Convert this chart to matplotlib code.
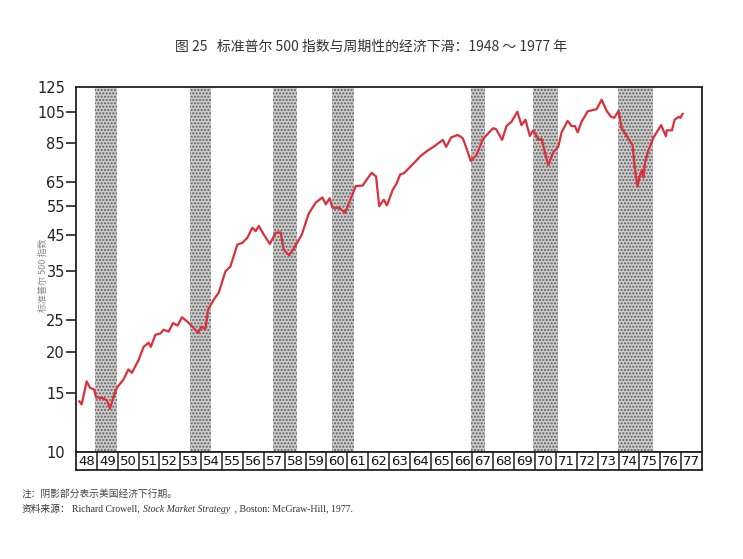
import matplotlib
matplotlib.use('Agg')
import matplotlib.pyplot as plt

plt.rcParams['font.family'] = ['DejaVu Sans', 'Noto Sans CJK SC']
plt.rcParams['hatch.color'] = '#5e5e5e'
plt.rcParams['hatch.linewidth'] = 1.0

# S&P 500 index (year as decimal)
years = [1948.16, 1948.27, 1948.51, 1948.67, 1948.87, 1948.96, 1949.31, 1949.48,
         1949.63, 1949.79, 1949.96, 1950.27, 1950.51, 1950.68, 1951.00, 1951.24,
         1951.48, 1951.59, 1951.80, 1952.04, 1952.20, 1952.44, 1952.65, 1952.87,
         1953.08, 1953.32, 1953.61, 1953.85, 1954.01, 1954.20, 1954.33, 1954.60,
         1954.84, 1955.16, 1955.40, 1955.73, 1955.97, 1956.21, 1956.45, 1956.61,
         1956.76, 1957.00, 1957.29, 1957.57, 1957.81, 1957.95, 1958.21, 1958.46,
         1958.82, 1959.15, 1959.49, 1959.81, 1959.97, 1960.16, 1960.29, 1960.61,
         1960.90, 1961.09, 1961.41, 1961.74, 1961.94, 1962.17, 1962.38, 1962.53,
         1962.75, 1962.90, 1963.18, 1963.34, 1963.54, 1963.71, 1963.90, 1964.22,
         1964.54, 1964.86, 1965.18, 1965.58, 1965.74, 1965.98, 1966.30, 1966.54,
         1966.75, 1966.91, 1967.18, 1967.50, 1967.74, 1967.99, 1968.14, 1968.42,
         1968.63, 1968.87, 1969.15, 1969.35, 1969.54, 1969.75, 1969.91, 1970.18,
         1970.31, 1970.63, 1970.87, 1971.11, 1971.27, 1971.56, 1971.75, 1971.91,
         1972.04, 1972.23, 1972.52, 1972.79, 1972.95, 1973.19, 1973.43, 1973.64,
         1973.80, 1974.00, 1974.15, 1974.44, 1974.67, 1974.79, 1974.91, 1975.00,
         1975.12, 1975.20, 1975.27, 1975.43, 1975.68, 1976.04, 1976.27, 1976.31,
         1976.56, 1976.69, 1976.88, 1976.96, 1977.07]
spx = [14.2, 13.9, 16.3, 15.6, 15.4, 14.6, 14.5, 14.3,
       13.5, 14.6, 15.6, 16.5, 17.7, 17.3, 18.9, 20.7,
       21.3, 20.7, 22.5, 22.7, 23.3, 23.0, 24.4, 24.0,
       25.4, 24.7, 23.7, 22.8, 23.8, 23.4, 26.8, 28.7,
       30.1, 34.9, 36.1, 42.0, 42.5, 44.0, 47.2, 46.1,
       47.8, 45.0, 42.2, 45.6, 45.7, 40.6, 39.0, 41.1,
       45.0, 52.0, 56.2, 58.2, 55.5, 57.9, 54.2, 54.2,
       52.4, 56.2, 63.0, 63.2, 66.0, 69.0, 67.3, 54.8,
       57.3, 55.1, 61.4, 63.7, 68.3, 68.8, 70.7, 74.2,
       77.8, 80.6, 83.0, 86.7, 82.6, 88.2, 89.7, 87.6,
       80.6, 75.0, 77.8, 87.1, 90.5, 94.0, 93.3, 86.7,
       95.4, 98.3, 105.3, 96.0, 99.7, 89.1, 92.6, 86.7,
       87.4, 72.7, 79.6, 82.6, 91.3, 98.9, 95.4, 95.4,
       91.3, 98.3, 105.6, 106.7, 107.2, 114.5, 106.0, 101.7,
       101.0, 106.0, 94.0, 88.2, 83.6, 70.5, 62.7, 66.9,
       70.5, 66.9, 74.2, 80.6, 88.2, 96.0, 88.9, 92.6,
       92.6, 99.7, 101.7, 100.9, 103.8]

# recessions (shaded)
rec_start = [1948.92, 1953.48, 1957.42, 1960.27, 1966.95, 1969.9, 1973.97]
rec_end = [1949.98, 1954.48, 1958.58, 1961.3, 1967.6, 1971.1, 1975.65]

yticks = [10, 15, 20, 25, 35, 45, 55, 65, 85, 105, 125]
year_labels = [str(y)[2:] for y in range(1948, 1978)]

W, H = 743, 559
fig = plt.figure(figsize=(W / 100, H / 100), dpi=100)
ax = fig.add_axes([76 / W, 1 - 452 / H, 626 / W, 365 / H])
yax = fig.add_axes([76 / W, 1 - 470 / H, 626 / W, 18 / H])

for a, b in zip(rec_start, rec_end):
    ax.axvspan(a, b, facecolor='#cccccc', edgecolor='#5e5e5e', hatch='.....',
               linewidth=0, zorder=1)

ax.plot(years, spx, color='#dc2f3a', linewidth=1.6, zorder=3)

ax.set_yscale('log')
ax.set_ylim(10, 125)
ax.set_xlim(1948, 1978)
ax.set_yticks(yticks)
ax.set_yticklabels([str(v) for v in yticks])
ax.yaxis.set_minor_locator(matplotlib.ticker.NullLocator())
ax.tick_params(axis='y', direction='out', length=7, width=1.2, pad=1,
               labelsize=10.5, colors='#222222')
ax.set_xticks([])
for i in (0, len(yticks) - 1):
    ax.yaxis.get_major_ticks()[i].tick1line.set_visible(False)
for s in ax.spines.values():
    s.set_linewidth(1.3)
    s.set_color('#222222')

# year boxes under the plot
yax.set_xlim(1948, 1978)
yax.set_ylim(0, 1)
yax.set_xticks([])
yax.set_yticks([])
for s in yax.spines.values():
    s.set_linewidth(1.3)
    s.set_color('#222222')
for i, lab in enumerate(year_labels):
    yr = 1948 + i
    if i > 0:
        yax.axvline(yr, color='#222222', linewidth=1.1)
    yax.text(yr + 0.5, 0.45, lab, ha='center', va='center', fontsize=9.5,
             color='#111111')

fig.text(0.5, 1 - 47 / H,
         '图 25   标准普尔 500 指数与周期性的经济下滑：1948 ～ 1977 年',
         ha='center', va='center', fontsize=10, color='#333333',
         family=['Noto Sans CJK SC', 'DejaVu Sans'])

fig.text(43 / W, 1 - 275 / H, '标准普尔 500 指数', rotation=90,
         ha='center', va='center', fontsize=6.5, color='#888888',
         family=['Noto Sans CJK SC', 'DejaVu Sans'])

# footnotes
fig.text(22 / W, 1 - 494 / H, '注：阴影部分表示美国经济下行期。', ha='left',
         va='center', fontsize=7, color='#444444',
         family=['Noto Sans CJK SC', 'DejaVu Sans'])

renderer = fig.canvas.get_renderer()
x = 22 / W
pieces = [('资料来源：', dict(family=['Noto Sans CJK SC'])),
          ('Richard Crowell, ', dict(family=['Liberation Serif'])),
          ('Stock Market Strategy', dict(family=['Liberation Serif'], style='italic')),
          (' , Boston: McGraw-Hill, 1977.', dict(family=['Liberation Serif']))]
for s, kw in pieces:
    t = fig.text(x, 1 - 509 / H, s, ha='left', va='center', fontsize=7,
                 color='#333333', **kw)
    x += t.get_window_extent(renderer).width / W + 1.2 / W

fig.savefig('out.png', dpi=100, facecolor='white')
